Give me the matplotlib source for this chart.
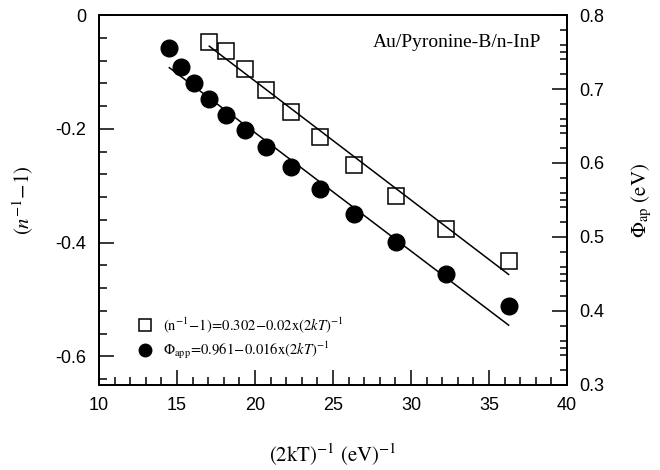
import matplotlib
matplotlib.use('Agg')
import matplotlib.pyplot as plt
import numpy as np

plt.rcParams['font.family'] = 'Liberation Sans'
plt.rcParams['mathtext.fontset'] = 'stix'
plt.rcParams['axes.unicode_minus'] = False

# (2kT)^-1 values, eV^-1
x_phi = [14.51, 15.27, 16.12, 17.07, 18.13, 19.34, 20.72, 22.32, 24.18, 26.37, 29.01, 32.24, 36.26]
phi_app = [0.755, 0.730, 0.708, 0.687, 0.665, 0.645, 0.621, 0.595, 0.565, 0.531, 0.493, 0.450, 0.407]

x_n = [17.07, 18.13, 19.34, 20.72, 22.32, 24.18, 26.37, 29.01, 32.24, 36.26]
n_term = [-0.047, -0.063, -0.094, -0.132, -0.170, -0.214, -0.263, -0.318, -0.376, -0.433]

# fitted lines (intercept, slope) as drawn
fit_n = (0.302, -0.0209)
fit_phi = (0.961, -0.016)

fig = plt.figure(figsize=(6.6, 4.7), dpi=100)
ax = fig.add_axes([0.15, 0.181, 0.709, 0.787])
ax2 = ax.twinx()

ax.plot(x_n, n_term, 's', ms=11, mfc='none', mec='black', mew=1.1, zorder=3)
xl = np.array([x_n[0], x_n[-1]])
ax.plot(xl, fit_n[0] + fit_n[1] * xl, color='black', lw=1.1)

ax2.plot(x_phi, phi_app, 'o', ms=12, color='black', zorder=3)
xl2 = np.array([x_phi[0], x_phi[-1]])
ax2.plot(xl2, fit_phi[0] + fit_phi[1] * xl2, color='black', lw=1.1)

ax.set_xlim(10, 40)
ax.set_ylim(-0.65, 0)
ax2.set_ylim(0.3, 0.8)

ax.set_xticks([10, 15, 20, 25, 30, 35, 40])
ax.set_xticks(np.arange(10, 41, 1), minor=True)
ax.set_yticks([0, -0.2, -0.4, -0.6])
ax.set_yticklabels(['0', '-0.2', '-0.4', '-0.6'])
ax.set_yticks(np.arange(0, -0.65, -0.04), minor=True)

ax2.set_yticks([0.3, 0.4, 0.5, 0.6, 0.7, 0.8])
ax2.set_yticklabels(['0.3', '0.4', '0.5', '0.6', '0.7', '0.8'])
right_minor = []
for base in [0.3, 0.4, 0.5, 0.6, 0.7]:
    for off in [0.02, 0.04, 0.05, 0.06, 0.08]:
        right_minor.append(base + off)
ax2.set_yticks(right_minor, minor=True)

ax.tick_params(axis='both', which='major', direction='in', length=11, width=1.1,
               labelsize=13, pad=9)
ax.tick_params(axis='both', which='minor', direction='in', length=5.5, width=1.1)
ax.tick_params(axis='x', which='both', top=False)
ax2.tick_params(axis='y', which='major', direction='in', length=11, width=1.1,
                labelsize=13, pad=9)
ax2.tick_params(axis='y', which='minor', direction='in', length=5, width=1.1)

for a in (ax, ax2):
    for s in a.spines.values():
        s.set_linewidth(1.3)

ax.set_xlabel(r'$\mathrm{(2kT)^{-1}\ (eV)^{-1}}$', fontsize=15, labelpad=20)
ax.set_ylabel(r'$(n^{-1}\mathrm{-1)}$', fontsize=15)
ax.yaxis.set_label_coords(-0.135, 0.5)
ax2.set_ylabel(r'$\Phi_{\mathrm{ap}}\ \mathrm{(eV)}$', fontsize=15)
ax2.yaxis.set_label_coords(1.135, 0.5)

ax.text(0.945, 0.925, 'Au/Pyronine-B/n-InP', transform=ax.transAxes,
        ha='right', va='center', fontsize=14, family='Liberation Serif')

h1, = ax.plot([], [], 's', ms=9, mfc='none', mec='black', mew=1.1)
h2, = ax.plot([], [], 'o', ms=9, color='black')
ax2.legend([h1, h2],
           [r'$\mathrm{(n^{-1}\!-\!1)\!=\!0.302\!-\!0.02x(2}kT\mathrm{)^{-1}}$',
            r'$\Phi_{\mathrm{app}}\mathrm{\!=\!0.961\!-\!0.016x(2}kT\mathrm{)^{-1}}$'],
           loc='lower left', bbox_to_anchor=(0.055, 0.03), frameon=False,
           fontsize=10.5, handlelength=1.0, handletextpad=0.7, labelspacing=0.3)

fig.savefig('out.png', dpi=100)
